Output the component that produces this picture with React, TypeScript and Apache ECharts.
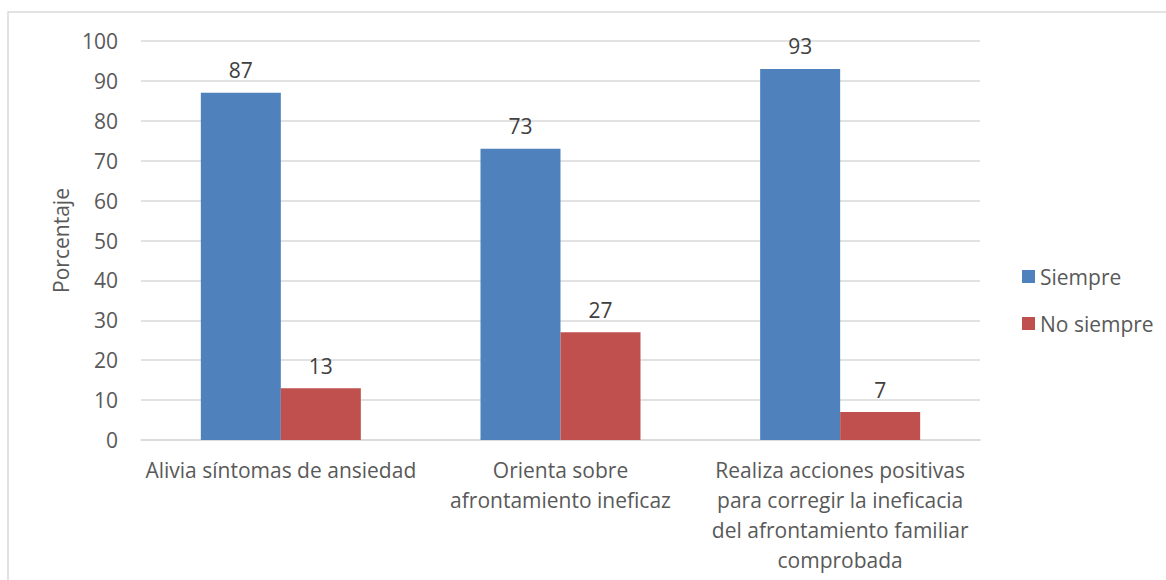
import React, { useEffect, useRef } from "react";
import * as echarts from "echarts";

const categories = [
  "Alivia síntomas de ansiedad",
  "Orienta sobre\nafrontamiento ineficaz",
  "Realiza acciones positivas\npara corregir la ineficacia\ndel afrontamiento familiar\ncomprobada",
];
const siempre = [87, 73, 93];
const noSiempre = [13, 27, 7];
const seriesNames = ["Siempre", "No siempre"];
const yTicks = { min: 0, max: 100, interval: 10 };
const yName = "Porcentaje";

const FONT = "'Open Sans', sans-serif";
const TEXT = "#595959";
const FS = 21;

export default function App() {
  const ref = useRef<HTMLDivElement>(null);
  useEffect(() => {
    if (!ref.current) return;
    const chart = echarts.init(ref.current, undefined, { renderer: "svg" });
    chart.setOption({
      animation: false,
      backgroundColor: "#ffffff",
      textStyle: { fontFamily: FONT },
      graphic: [
        {
          type: "rect",
          shape: { x: 8, y: 12, width: 1200, height: 600 },
          style: { fill: "none", stroke: "#d9d9d9", lineWidth: 1.5 },
          silent: true,
          z: -1,
        },
      ],
      grid: { left: 141, right: 186, top: 41, bottom: 140, containLabel: false },
      legend: {
        orient: "vertical",
        left: 1022,
        top: 266,
        padding: 0,
        itemWidth: 13,
        itemHeight: 13,
        itemGap: 26,
        icon: "rect",
        textStyle: { fontFamily: FONT, fontSize: FS, color: TEXT },
        data: seriesNames,
      },
      xAxis: {
        type: "category",
        data: categories,
        axisLine: { lineStyle: { color: "#d9d9d9", width: 1.5 } },
        axisTick: { show: false },
        axisLabel: {
          interval: 0,
          margin: 15,
          color: TEXT,
          fontFamily: FONT,
          fontSize: FS,
          lineHeight: 30,
          align: "center",
        },
      },
      yAxis: {
        type: "value",
        min: yTicks.min,
        max: yTicks.max,
        interval: yTicks.interval,
        name: yName,
        nameLocation: "middle",
        nameGap: 70,
        nameTextStyle: { color: TEXT, fontFamily: FONT, fontSize: FS },
        axisLine: { show: false },
        axisTick: { show: false },
        axisLabel: { margin: 23, color: TEXT, fontFamily: FONT, fontSize: FS },
        splitLine: { lineStyle: { color: "#d9d9d9", width: 1.5 } },
      },
      series: [
        {
          name: seriesNames[0],
          type: "bar",
          data: siempre,
          barWidth: 80,
          barGap: "0%",
          itemStyle: { color: "#4f81bd" },
          label: { show: true, position: "top", distance: 12, color: "#404040", fontFamily: FONT, fontSize: FS },
        },
        {
          name: seriesNames[1],
          type: "bar",
          data: noSiempre,
          barWidth: 80,
          barGap: "0%",
          itemStyle: { color: "#c0504d" },
          label: { show: true, position: "top", distance: 12, color: "#404040", fontFamily: FONT, fontSize: FS },
        },
      ],
    });
    return () => chart.dispose();
  }, []);
  return (
    <div
      ref={ref}
      style={{ position: "absolute", left: 0, top: 0, width: 1166, height: 580 }}
    />
  );
}
